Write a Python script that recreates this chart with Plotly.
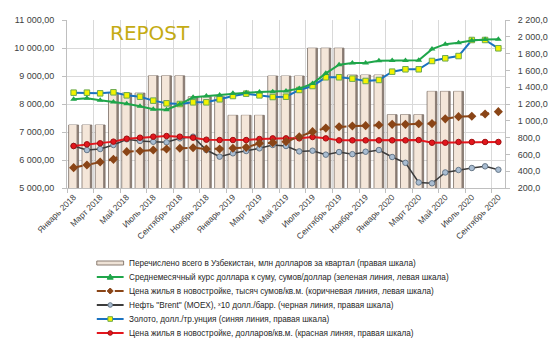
import plotly.graph_objects as go

# ---------------- data ----------------
tick_labels = ["Январь 2018", "Март 2018", "Май 2018", "Июль 2018", "Сентябрь 2018",
               "Ноябрь 2018", "Январь 2019", "Март 2019", "Май 2019", "Июль 2019",
               "Сентябрь 2019", "Ноябрь 2019", "Январь 2020", "Март 2020", "Май 2020",
               "Июль 2020", "Сентябрь 2020"]

# quarterly transfers (right axis), shown for every month of the quarter
transfers_quarterly = [950, 1330, 1535, 1287, 1065, 1533, 1865, 1545, 1073, 1350, None]

usd_rate = [8168, 8204, 8132, 8071, 8011, 7918, 7811, 7796, 7990, 8239, 8286, 8321,
            8381, 8405, 8429, 8440, 8464, 8550, 8730, 9095, 9405, 9463, 9463, 9548,
            9555, 9555, 9560, 9960, 10137, 10190, 10270, 10300, 10310]

house_sum = [5726, 5821, 5929, 6024, 6298, 6321, 6357, 6393, 6417, 6440, 6393, 6393,
             6417, 6452, 6595, 6619, 6655, 6833, 7012, 7140, 7190, 7214, 7226, 7250,
             7274, 7274, 7292, 7300, 7470, 7548, 7560, 7643, 7726]

brent_x10 = [700, 652, 664, 712, 780, 760, 751, 744, 791, 811, 652, 573,
             613, 640, 672, 712, 700, 636, 644, 597, 628, 603, 632, 652,
             569, 500, 266, 256, 385, 414, 438, 458, 418]

gold = [1335, 1335, 1327, 1339, 1303, 1287, 1240, 1208, 1200, 1220, 1220, 1256,
        1295, 1323, 1303, 1283, 1287, 1367, 1414, 1518, 1518, 1502, 1474, 1486,
        1585, 1613, 1613, 1712, 1744, 1771, 1962, 1962, 1863]

house_usd = [700, 720, 732, 752, 787, 799, 811, 819, 811, 799, 775, 771,
             771, 771, 783, 791, 791, 791, 807, 791, 767, 767, 767, 767,
             767, 767, 771, 739, 739, 748, 748, 748, 748]

legend_labels = [
    "Перечислено всего в Узбекистан, млн долларов за квартал (правая шкала)",
    "Среднемесячный курс доллара к суму, сумов/доллар (зеленая линия, левая шкала)",
    "Цена жилья в новостройке, тысяч сумов/кв.м. (коричневая линия, левая шкала)",
    "Нефть \"Brent\" (MOEX), ˣ10 долл./барр. (черная линия, правая шкала)",
    "Золото, долл./тр.унция (синяя линия, правая шкала)",
    "Цена жилья в новостройке, долларов/кв.м. (красная линяя, правая шкала)",
]

# ---------------- styling ----------------
W, H = 560, 351
ML, MR, MT, MB = 67, 52, 20, 163
PW, PH = W - ML - MR, H - MT - MB

GREEN = "#1FA64A"
BROWN = "#8A4517"
BLACK = "#3C3C3C"
BLUE = "#1A72C0"
RED = "#E3161D"
GRID = "#D9D9D9"
AXIS = "#BFBFBF"
TXT = "#404040"
FONT = "Liberation Sans"


def px_x(px):
    return (px - ML) / PW


def px_y(py):
    return (H - MB - py) / PH


transfers = [q for q in transfers_quarterly for _ in range(3)]
x = list(range(len(usd_rate)))

fig = go.Figure()

# bars (two layers give a shaded cylinder look)
fig.add_trace(go.Bar(x=x, y=transfers, yaxis="y", width=0.74,
                     marker=dict(color="#8F8077", line=dict(color="#7A6D64", width=0.8)),
                     showlegend=False, hoverinfo="skip"))
fig.add_trace(go.Bar(x=x, y=transfers, yaxis="y", width=0.56, offset=-0.34,
                     marker=dict(color="#F4E6D9", line=dict(width=0)),
                     showlegend=False, name=legend_labels[0]))

# right-axis lines
fig.add_trace(go.Scatter(x=x, y=brent_x10, yaxis="y", mode="lines+markers",
                         line=dict(color=BLACK, width=1.5),
                         marker=dict(symbol="circle", size=5.5, color="#A9BDD2",
                                     line=dict(color="#667788", width=1)),
                         name=legend_labels[3], showlegend=False))
fig.add_trace(go.Scatter(x=x, y=gold, yaxis="y", mode="lines+markers",
                         line=dict(color=BLUE, width=2),
                         marker=dict(symbol="square", size=5.5, color="#F4F400",
                                     line=dict(color="#6AA84F", width=1)),
                         name=legend_labels[4], showlegend=False))
fig.add_trace(go.Scatter(x=x, y=house_usd, yaxis="y", mode="lines+markers",
                         line=dict(color=RED, width=2),
                         marker=dict(symbol="circle", size=5.5, color=RED,
                                     line=dict(color="#A01010", width=1)),
                         name=legend_labels[5], showlegend=False))

# left-axis lines
fig.add_trace(go.Scatter(x=x, y=house_sum, yaxis="y2", mode="lines+markers",
                         line=dict(color=BROWN, width=2, dash="dash"),
                         marker=dict(symbol="diamond", size=7, color=BROWN),
                         name=legend_labels[2], showlegend=False))
fig.add_trace(go.Scatter(x=x, y=usd_rate, yaxis="y2", mode="lines+markers",
                         line=dict(color=GREEN, width=2),
                         marker=dict(symbol="triangle-up", size=6, color=GREEN),
                         name=legend_labels[1], showlegend=False))

boundaries = [i - 0.5 for i in range(0, len(x), 2)]

fig.update_layout(
    width=W, height=H,
    margin=dict(l=ML, r=MR, t=MT, b=MB),
    paper_bgcolor="white", plot_bgcolor="white",
    barmode="overlay",
    separators=", ",
    font=dict(family=FONT, size=9, color=TXT),
    showlegend=False,
    xaxis=dict(range=[-0.5, len(x) - 0.5], tickmode="array",
               tickvals=x[::2], ticktext=tick_labels, tickangle=-45,
               tickfont=dict(size=8.5, color=TXT),
               showgrid=False, ticks="", showline=True, linecolor=AXIS,
               zeroline=False,
               minor=dict(tickmode="array", tickvals=boundaries, showgrid=True,
                          gridcolor=GRID, gridwidth=1, ticks="outside",
                          ticklen=4, tickcolor=AXIS)),
    yaxis=dict(range=[200, 2200], side="right", tickmode="linear", tick0=200, dtick=200,
               tickformat=",.1f", showgrid=False, zeroline=False, showline=True,
               linecolor=AXIS, ticks="outside", ticklen=4, tickcolor=AXIS,
               tickfont=dict(size=9, color=TXT), ticklabelstandoff=6),
    yaxis2=dict(range=[5000, 11000], side="left", overlaying="y", tickmode="linear",
                tick0=5000, dtick=1000, tickformat=",.2f", showgrid=True,
                gridcolor=GRID, zeroline=False, showline=True, linecolor=AXIS,
                ticks="outside", ticklen=4, tickcolor=AXIS,
                tickfont=dict(size=9, color=TXT), ticklabelstandoff=6),
)

# logo
fig.add_annotation(text="REPOST", x=px_x(151), y=px_y(33), xref="paper", yref="paper",
                   showarrow=False, xanchor="center", yanchor="middle",
                   font=dict(family="DejaVu Sans", size=20, color="#C4AB14"))

# manual compact legend
rows_y = [263, 277, 291, 305, 319, 333]
sx0, sx1, scx, tx = 97, 124, 110.5, 127
shapes = []
styles = [
    ("bar", None, None, None, None),
    ("line", GREEN, "solid", "triangle", (GREEN, GREEN)),
    ("line", BROWN, "dash", "diamond", (BROWN, BROWN)),
    ("line", BLACK, "solid", "circle", ("#A9BDD2", "#667788")),
    ("line", BLUE, "solid", "square", ("#F4F400", "#6AA84F")),
    ("line", RED, "solid", "circle", (RED, "#A01010")),
]
for ry, label, (kind, col, dash, sym, mk) in zip(rows_y, legend_labels, styles):
    if kind == "bar":
        shapes.append(dict(type="rect", xref="paper", yref="paper",
                           x0=px_x(sx0), x1=px_x(sx1), y0=px_y(ry + 2), y1=px_y(ry - 2),
                           fillcolor="#EEE2D6", line=dict(color="#8A7C72", width=1)))
    else:
        shapes.append(dict(type="line", xref="paper", yref="paper",
                           x0=px_x(sx0), x1=px_x(sx1), y0=px_y(ry), y1=px_y(ry),
                           line=dict(color=col, width=2, dash=dash)))
        base = dict(xref="paper", yref="paper", xsizemode="pixel", ysizemode="pixel",
                    xanchor=px_x(scx), yanchor=px_y(ry), fillcolor=mk[0],
                    line=dict(color=mk[1], width=1))
        if sym == "circle":
            shapes.append(dict(type="circle", x0=-2.3, x1=2.3, y0=-2.3, y1=2.3, **base))
        elif sym == "square":
            shapes.append(dict(type="rect", x0=-2.3, x1=2.3, y0=-2.3, y1=2.3, **base))
        elif sym == "triangle":
            shapes.append(dict(type="path", path="M -3 -2.2 L 3 -2.2 L 0 3 Z", **base))
        elif sym == "diamond":
            shapes.append(dict(type="path", path="M 0 3 L 3 0 L 0 -3 L -3 0 Z", **base))
    fig.add_annotation(text=label, x=px_x(tx), y=px_y(ry), xref="paper", yref="paper",
                       showarrow=False, xanchor="left", yanchor="middle",
                       font=dict(family=FONT, size=8.2, color="#262626"))
fig.update_layout(shapes=shapes)

fig.write_html("out.html")
